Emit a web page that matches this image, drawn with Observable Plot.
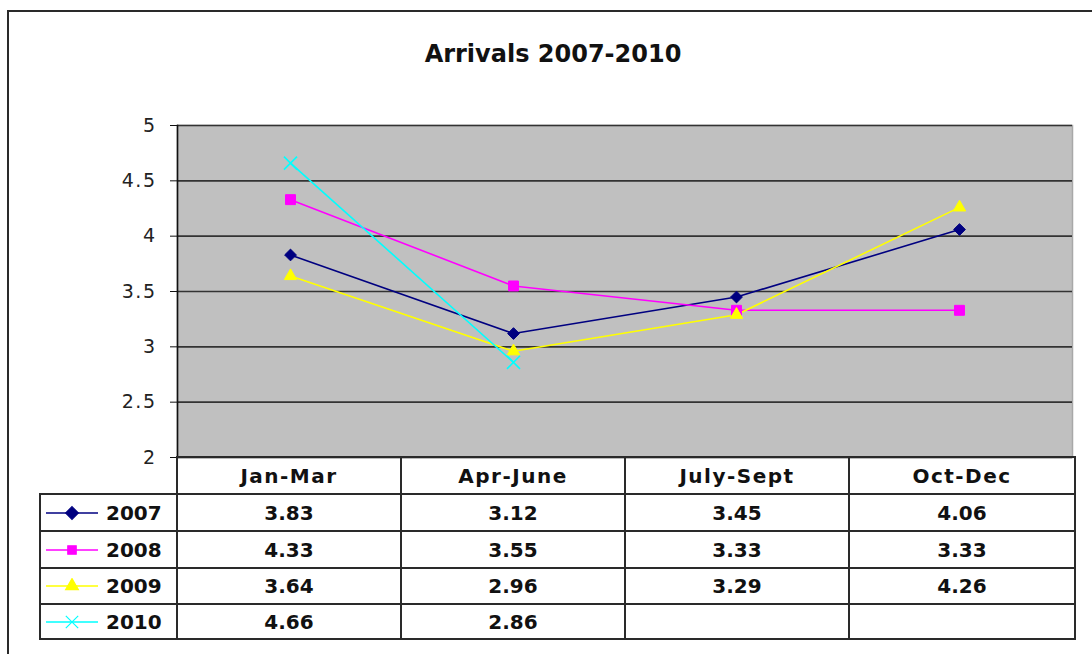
<!DOCTYPE html>
<html><head><meta charset="utf-8">
<script src="https://cdn.jsdelivr.net/npm/d3@7"></script>
<script src="https://cdn.jsdelivr.net/npm/@observablehq/plot@0.6"></script>
<style>
html,body{margin:0;padding:0;background:#fff;overflow:hidden}
#wrap{position:relative;width:1092px;height:654px;overflow:hidden;font-family:"DejaVu Sans",sans-serif}
#outer{position:absolute;left:7px;top:10px;width:1200px;height:800px;border:2px solid #2a2a2a;box-sizing:border-box}
#title{position:absolute;left:0;top:42px;width:1106px;text-align:center;font-weight:bold;font-size:24px;line-height:24px;color:#111;font-family:"DejaVu Sans",sans-serif}
#chart{position:absolute;left:0;top:0}
#tbl{position:absolute;left:39px;top:456px;border-collapse:collapse;table-layout:fixed;width:1035px;font-family:"DejaVu Sans",sans-serif;font-weight:bold;font-size:20px;color:#111}
#tbl td{border:2px solid #2a2a2a;padding:0;text-align:center;vertical-align:middle;white-space:nowrap;overflow:hidden}
#tbl tr.head td{letter-spacing:1.5px;font-size:20px}
#tbl td.blank{border-top:none;border-left:none}
#tbl td.leg{text-align:left}
.legin{display:flex;align-items:center;padding-left:5px}
.legin svg{margin-right:6px}
</style></head>
<body><div id="wrap"><div id="outer"></div><div id="title">Arrivals 2007-2010</div><div id="chart"></div></div>
<script>
const quarters = ["Jan-Mar", "Apr-June", "July-Sept", "Oct-Dec"];
const years = ["2007", "2008", "2009", "2010"];
const v2007 = [3.83, 3.12, 3.45, 4.06];
const v2008 = [4.33, 3.55, 3.33, 3.33];
const v2009 = [3.64, 2.96, 3.29, 4.26];
const v2010 = [4.66, 2.86, null, null];
const yTicks = [2, 2.5, 3, 3.5, 4, 4.5, 5];
const colors = ["#000080", "#FF00FF", "#FFFF00", "#00FFFF"];
const symbols = ["diamond2", "square", "triangle", "times"];
const symbolR = [5.3, 5.6, 4.6, 6];

const series = [v2007, v2008, v2009, v2010];
const rows = [];
years.forEach((yr, i) => quarters.forEach((q, j) => {
  if (series[i][j] != null) rows.push({year: yr, quarter: q, value: series[i][j]});
}));

const marks = [
  Plot.frame({fill: "#c0c0c0", stroke: "#a8a8a8", strokeWidth: 1.5}),
  Plot.ruleY(yTicks, {stroke: "#333", strokeWidth: 1.6}),
  Plot.frame({anchor: "left", stroke: "#111", strokeWidth: 1.6}),
  Plot.axisY({ticks: yTicks, tickSize: 7, tickPadding: 14, tickFormat: d => String(d), label: null, stroke: "#111", fill: "#222"}),
  Plot.line(rows, {x: "quarter", y: "value", z: "year", stroke: "year", strokeWidth: 1.6})
];
years.forEach((yr, i) => {
  const data = rows.filter(r => r.year === yr);
  const isStroke = symbols[i] === "times";
  marks.push(Plot.dot(data, {
    x: "quarter", y: "value", symbol: () => symbols[i], r: symbolR[i],
    fill: isStroke ? "none" : colors[i], stroke: colors[i], strokeWidth: isStroke ? 1.6 : 1
  }));
});

const chart = Plot.plot({
  width: 1092, height: 654,
  marginLeft: 177, marginRight: 20, marginTop: 125, marginBottom: 197,
  style: {fontFamily: "DejaVu Sans", fontSize: "19px", letterSpacing: "1.5px", background: "transparent", overflow: "visible"},
  x: {type: "point", domain: quarters, padding: 0.5, axis: null},
  y: {domain: [2, 5], label: null},
  color: {domain: years, range: colors},
  symbol: {domain: symbols, range: symbols},
  marks
});
document.getElementById("chart").appendChild(chart);

// data table
const wrap = d3.select("#wrap");
const tbl = wrap.append("table").attr("id", "tbl");
const cg = tbl.append("colgroup");
[137, 224, 224, 224, 226].forEach(w => cg.append("col").style("width", w + "px"));
const head = tbl.append("tr").attr("class", "head").style("height", "37px");
head.append("td").attr("class", "blank");
quarters.forEach(q => head.append("td").text(q));
const rowH = [37, 37, 36, 35];
const symSize = [6, 5, 5, 6];
years.forEach((yr, i) => {
  const tr = tbl.append("tr").style("height", rowH[i] + "px");
  const leg = tr.append("td").attr("class", "leg").append("div").attr("class", "legin");
  const svg = leg.append("svg").attr("width", 54).attr("height", 16);
  svg.append("line").attr("x1", 0).attr("x2", 52).attr("y1", 8).attr("y2", 8)
    .attr("stroke", colors[i]).attr("stroke-width", 1.5);
  const symMap = {diamond2: d3.symbolDiamond2 || d3.symbolDiamond, square: d3.symbolSquare, triangle: d3.symbolTriangle, times: d3.symbolTimes || d3.symbolCross};
  const path = d3.symbol(symMap[symbols[i]], Math.PI * symSize[i] * symSize[i] * 0.9)();
  svg.append("path").attr("d", path).attr("transform", "translate(26,8)")
    .attr("fill", symbols[i] === "times" ? "none" : colors[i]).attr("stroke", colors[i]).attr("stroke-width", 1.2);
  leg.append("span").text(yr);
  quarters.forEach((q, j) => tr.append("td").text(series[i][j] == null ? "" : series[i][j].toFixed(2)));
});
</script></body></html>
